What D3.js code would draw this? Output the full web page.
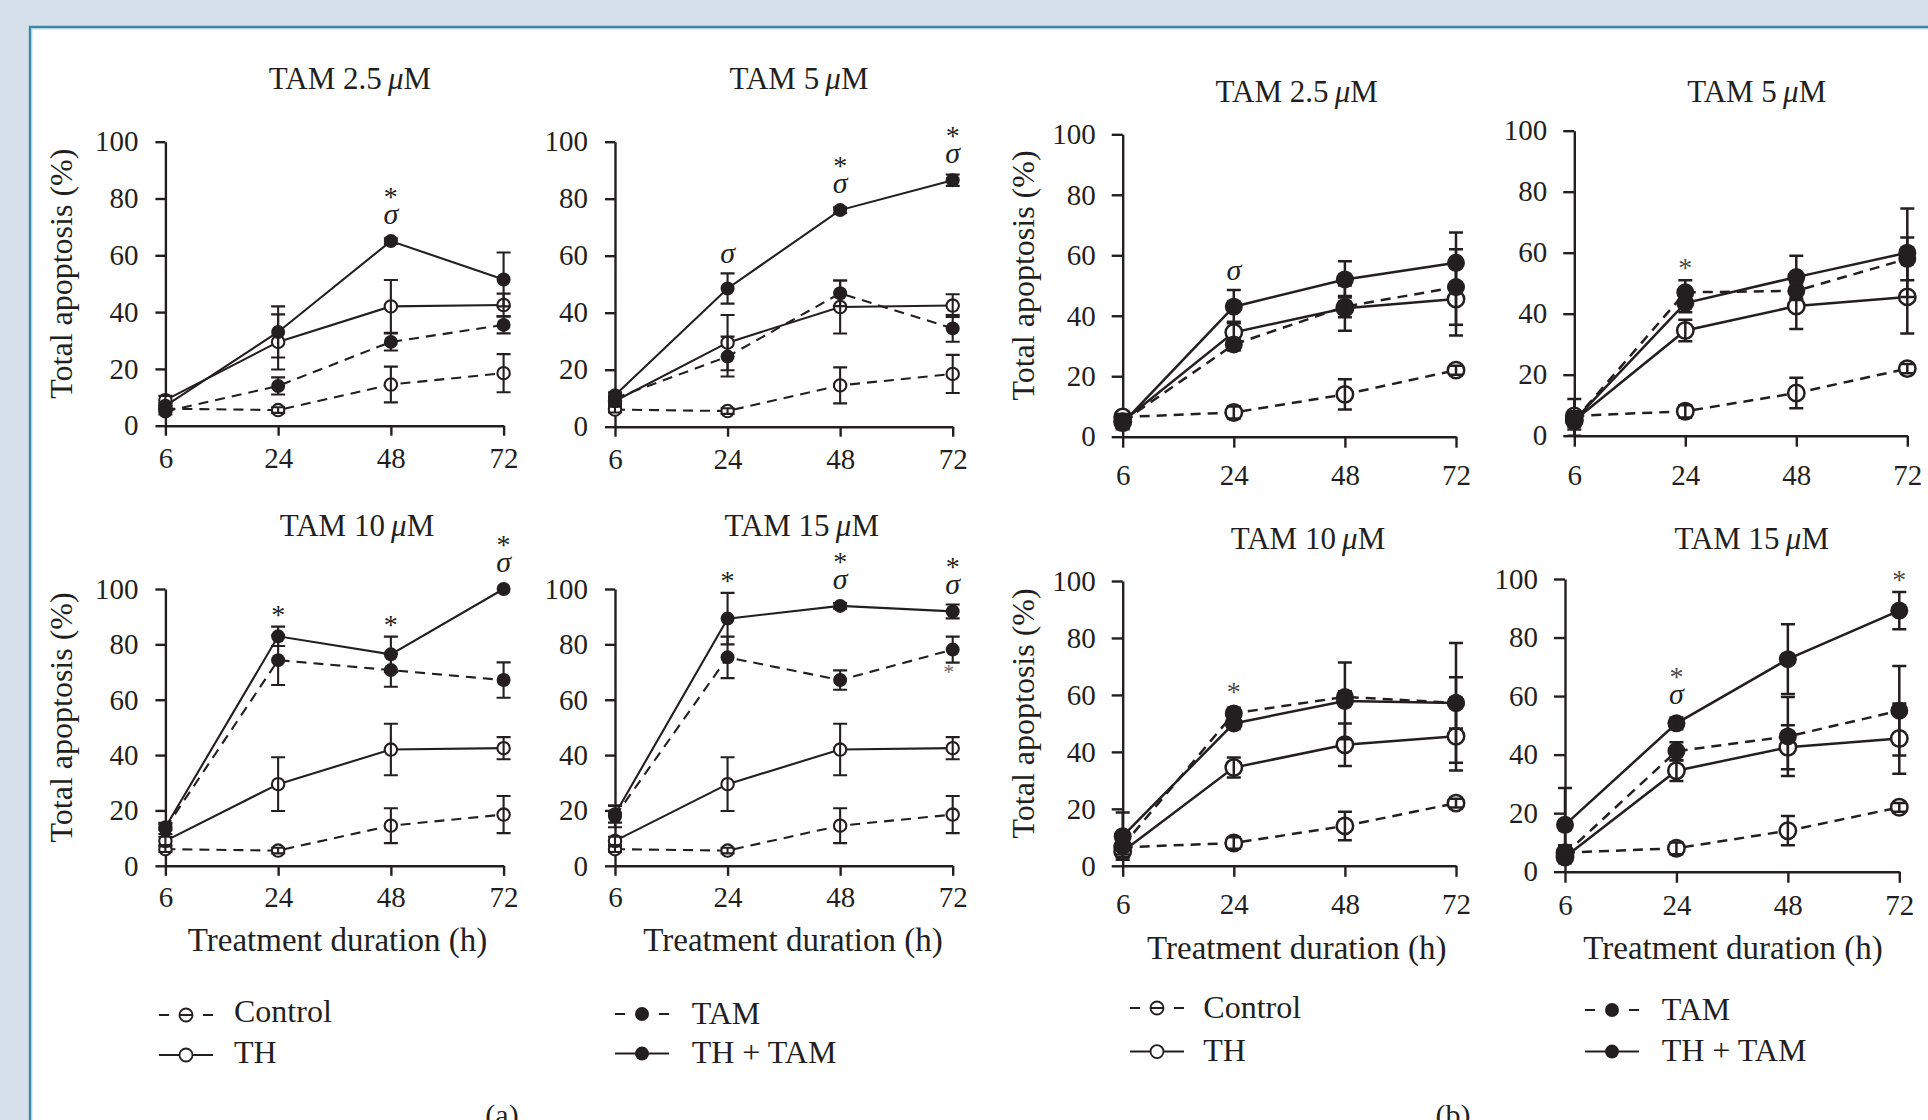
<!DOCTYPE html>
<html>
<head>
<meta charset="utf-8">
<script src="https://cdn.jsdelivr.net/npm/d3@7"></script>
<style>
  html, body { margin: 0; padding: 0; background: #d6e0ea; }
  svg { display: block; }
</style>
</head>
<body>
<svg id="fig" width="1928" height="1120"></svg>
<script>
// ---- shared axes ----
const hours = [6, 24, 48, 72];
const yTicks = [0, 20, 40, 60, 80, 100];
const doses = ["2.5", "5", "10", "15"];

// ---- (a) total apoptosis, mean and error ----
const controlA = [6, 5.5, 14.5, 18.5];
const controlAErr = [1, 1, 6.3, 6.7];
const thA = [9, 29.5, 42, 42.5];
const thAErr = [1.5, 9.7, 9.3, 4];
const tamA = [
  [5, 14, 29.5, 35.5],
  [10, 24.6, 46.8, 34.5],
  [13.5, 74.3, 70.7, 67.1],
  [17.9, 75.3, 67.1, 78.1]
];
const tamAErr = [
  [1, 3, 3, 3],
  [2, 7, 4.5, 4.7],
  [2, 9, 6, 6.4],
  [4, 7.5, 3.5, 4.7]
];
const thTamA = [
  [7, 33, 65, 51.5],
  [11, 48.5, 76, 86.5],
  [13.9, 82.9, 76.4, 100],
  [18.6, 89.3, 93.9, 91.9]
];
const thTamAErr = [
  [1, 9, 1, 9.5],
  [1, 5.3, 1, 2],
  [1, 3.5, 6.4, 0],
  [3, 9.3, 1, 2.5]
];
// significance marks (time points)
const starA = [[48], [48, 72], [24, 48, 72], [24, 48, 72]];
const sigmaA = [[48], [24, 48, 72], [72], [48, 72]];
const starBelowTamA = [[], [], [], [72]];

// ---- (b) total apoptosis, mean and error ----
const controlB = [6.5, 8, 14, 22];
const controlBErr = [1, 2, 5, 1.5];
const thB = [5, 34.5, 42.5, 45.5];
const thBErr = [2, 3.5, 7.5, 12];
const tamB = [
  [5, 30.5, 43, 49.5],
  [5, 47, 47.5, 58],
  [7, 53.5, 59.3, 57.2],
  [6, 41.2, 46.2, 55]
];
const tamBErr = [
  [2, 2, 3.5, 12.5],
  [3, 4, 3, 7],
  [3, 2, 2, 9],
  [3, 3, 13.5, 15.3]
];
const thTamB = [
  [4.5, 43, 52, 57.5],
  [5, 43.5, 52, 60],
  [10.4, 50, 57.9, 57.2],
  [16, 50.7, 72.6, 89.2]
];
const thTamBErr = [
  [2, 5.5, 6, 10],
  [7, 3, 7, 14.5],
  [8.3, 2, 13.5, 21],
  [12.6, 2, 11.9, 6.4]
];
const starB = [[], [24], [24], [24, 72]];
const sigmaB = [[24], [], [], [24]];
const starBelowTamB = [[], [], [], []];

// ---- drawing ----
const FONT = "'Liberation Serif', 'Times New Roman', Times, serif";
const INK = "#231f20";
const svg = d3.select("#fig");

// page frame
svg.append("rect").attr("x", 0).attr("y", 0).attr("width", 1928).attr("height", 1120).attr("fill", "#d6e0ea");
svg.append("rect").attr("x", 31).attr("y", 28).attr("width", 1928).attr("height", 1120).attr("fill", "#ffffff");
svg.append("path").attr("d", "M30,1120 V27 H1928").attr("fill", "none").attr("stroke", "#3f87a8").attr("stroke-width", 2.4);
svg.append("path").attr("d", "M31.8,1120 V28.8 H1928").attr("fill", "none").attr("stroke", "#a3c9da").attr("stroke-width", 1);

const styleA = { rFill: 7, rOpen: 6.2, lw: 2.1, tick: 10, cap: 7, dash: "10,7" };
const styleB = { rFill: 9, rOpen: 8.2, lw: 2.5, tick: 11, cap: 7, dash: "10,7" };

const layoutA = [
  { x0: 165.4, x1: 503.6, y0: 425.7, y1: 141.7, tx: 350, ty: 89, gap: 42.6, ylab: 60.7 },
  { x0: 615, x1: 952.7, y0: 426.7, y1: 141.7, tx: 799, ty: 89, gap: 42.6 },
  { x0: 165.4, x1: 503.6, y0: 865.8, y1: 589, tx: 357, ty: 535.6, gap: 41.5, ylab: 60.7, xlab: 337.5, xlabY: 951 },
  { x0: 615, x1: 952.7, y0: 865.8, y1: 589, tx: 801.7, ty: 535.6, gap: 41.5, xlab: 793, xlabY: 951 }
];
const layoutB = [
  { x0: 1122.7, x1: 1456, y0: 436.7, y1: 134.3, tx: 1296.7, ty: 101.7, gap: 48.5, ylab: 1023 },
  { x0: 1574.3, x1: 1907.3, y0: 435.7, y1: 130.7, tx: 1756.7, ty: 101.7, gap: 49 },
  { x0: 1122.7, x1: 1456, y0: 865.8, y1: 581, tx: 1308, ty: 549.4, gap: 48, ylab: 1023, xlab: 1296.7, xlabY: 958.7 },
  { x0: 1565, x1: 1899.3, y0: 871.7, y1: 579, tx: 1751.7, ty: 549.4, gap: 43, xlab: 1733, xlabY: 958.7 }
];

function drawPanel(L, dose, series, st, stars, sigmas, starsBelow, starColor) {
  const x = d3.scalePoint().domain(hours).range([L.x0, L.x1]);
  const y = d3.scaleLinear().domain([0, 100]).range([L.y0, L.y1]);
  const g = svg.append("g");

  // axes
  const xa = g.append("g").attr("transform", `translate(0,${L.y0})`)
    .call(d3.axisBottom(x).tickSize(st.tick).tickSizeOuter(0));
  const ya = g.append("g").attr("transform", `translate(${L.x0},0)`)
    .call(d3.axisLeft(y).tickValues(yTicks).tickSize(st.tick).tickSizeOuter(0));
  [xa, ya].forEach(a => {
    a.attr("font-family", null).attr("font-size", null);
    a.selectAll("path,line").attr("stroke", INK).attr("stroke-width", 2.4);
    a.selectAll("text").attr("fill", INK).style("font-family", FONT).style("font-size", "29px");
  });
  xa.selectAll("text").attr("y", L.gap).attr("dy", null);
  ya.selectAll("text").attr("x", -27);

  // title
  const t = g.append("text").attr("x", L.tx).attr("y", L.ty).attr("text-anchor", "middle")
    .attr("fill", INK).style("font-family", FONT).style("font-size", "31px");
  t.append("tspan").text(`TAM ${dose}\u2009`);
  t.append("tspan").style("font-style", "italic").text("\u03bc");
  t.append("tspan").text("M");

  if (L.ylab !== undefined) {
    g.append("text").attr("transform", `translate(${L.ylab},${(L.y0 + L.y1) / 2 - 10}) rotate(-90)`)
      .attr("text-anchor", "middle").attr("dy", "0.35em").attr("fill", INK)
      .style("font-family", FONT).style("font-size", "32px").text("Total apoptosis (%)");
  }
  if (L.xlab !== undefined) {
    g.append("text").attr("x", L.xlab).attr("y", L.xlabY).attr("text-anchor", "middle").attr("fill", INK)
      .style("font-family", FONT).style("font-size", "33px").text("Treatment duration (h)");
  }

  const line = d3.line().x((d, i) => x(hours[i])).y(d => y(d));
  // connecting lines
  series.forEach(s => {
    g.append("path").attr("d", line(s.vals)).attr("fill", "none").attr("stroke", INK)
      .attr("stroke-width", st.lw).attr("stroke-dasharray", s.dashed ? st.dash : null);
  });
  // open markers, then filled markers
  series.filter(s => !s.filled).forEach(s => {
    g.selectAll(null).data(s.vals).enter().append("circle")
      .attr("cx", (d, i) => x(hours[i])).attr("cy", d => y(d)).attr("r", st.rOpen)
      .attr("fill", "#fff").attr("stroke", INK).attr("stroke-width", st.lw);
  });
  series.filter(s => s.filled).forEach(s => {
    g.selectAll(null).data(s.vals).enter().append("circle")
      .attr("cx", (d, i) => x(hours[i])).attr("cy", d => y(d)).attr("r", st.rFill)
      .attr("fill", INK);
  });
  // error bars
  series.forEach(s => {
    s.vals.forEach((v, i) => {
      const e = s.errs[i];
      if (!e) return;
      const cx = x(hours[i]);
      const top = y(Math.min(100, v + e)), bot = y(Math.max(0, v - e));
      const p = `M${cx},${top}V${bot}M${cx - st.cap},${top}H${cx + st.cap}M${cx - st.cap},${bot}H${cx + st.cap}`;
      g.append("path").attr("d", p).attr("fill", "none").attr("stroke", INK).attr("stroke-width", st.lw);
    });
  });

  // significance marks above the highest point at each time
  const topAt = h => {
    const i = hours.indexOf(h);
    return d3.min(series, s => Math.min(y(s.vals[i] + (s.errs[i] || 0)), y(s.vals[i]) - st.rFill));
  };
  hours.forEach(h => {
    const hasS = sigmas.includes(h), hasStar = stars.includes(h);
    if (!hasS && !hasStar) return;
    const top = topAt(h);
    const sBase = top - 10;
    if (hasS) {
      g.append("text").attr("x", x(h)).attr("y", sBase).attr("text-anchor", "middle").attr("fill", INK)
        .style("font-family", FONT).style("font-style", "italic").style("font-size", "30px").text("\u03c3");
    }
    if (hasStar) {
      const c = hasS ? sBase - 31 : top - 16;
      g.append("text").attr("x", x(h)).attr("y", c + 13).attr("text-anchor", "middle").attr("fill", starColor)
        .style("font-family", FONT).style("font-size", "28px").text("*");
    }
  });
  // mark below the TAM point
  const tam = series.find(s => s.key === "tam");
  starsBelow.forEach(h => {
    const i = hours.indexOf(h);
    const bot = y(tam.vals[i] - tam.errs[i]);
    g.append("text").attr("x", x(h) - 4).attr("y", bot + 16).attr("text-anchor", "middle").attr("fill", "#6a6a6a")
      .style("font-family", FONT).style("font-size", "22px").text("*");
  });
}

function seriesFor(ctrl, ctrlE, th, thE, tam, tamE, tt, ttE) {
  return [
    { key: "control", vals: ctrl, errs: ctrlE, dashed: true, filled: false },
    { key: "th", vals: th, errs: thE, dashed: false, filled: false },
    { key: "tam", vals: tam, errs: tamE, dashed: true, filled: true },
    { key: "thtam", vals: tt, errs: ttE, dashed: false, filled: true }
  ];
}

doses.forEach((dose, k) => {
  drawPanel(layoutA[k], dose,
    seriesFor(controlA, controlAErr, thA, thAErr, tamA[k], tamAErr[k], thTamA[k], thTamAErr[k]),
    styleA, starA[k], sigmaA[k], starBelowTamA[k], INK);
  drawPanel(layoutB[k], dose,
    seriesFor(controlB, controlBErr, thB, thBErr, tamB[k], tamBErr[k], thTamB[k], thTamBErr[k]),
    styleB, starB[k], sigmaB[k], starBelowTamB[k], "#4a4a4a");
});

// ---- legends ----
const legendNames = [["Control", "TH"], ["TAM", "TH + TAM"]];
const legendPos = [
  { x: 159, tx: 234, rows: [1015, 1055], base: [1022, 1063], kind: 0 },
  { x: 615, tx: 691.7, rows: [1014, 1053.6], base: [1024, 1063], kind: 1 },
  { x: 1130, tx: 1203.3, rows: [1008, 1051.6], base: [1018, 1061], kind: 0 },
  { x: 1585, tx: 1661.7, rows: [1010, 1051.6], base: [1020, 1061], kind: 1 }
];
legendPos.forEach(P => {
  const names = legendNames[P.kind];
  names.forEach((name, r) => {
    const cy = P.rows[r];
    const dashed = r === 0;
    const filled = P.kind === 1;
    const lg = svg.append("g");
    lg.append("line").attr("x1", P.x).attr("x2", P.x + 54).attr("y1", cy).attr("y2", cy)
      .attr("stroke", INK).attr("stroke-width", 2)
      .attr("stroke-dasharray", dashed ? (filled ? "10,44" : "10,10.5,13,10.5,10") : null);
    if (dashed && filled) {
      lg.append("line").attr("x1", P.x + 44).attr("x2", P.x + 54).attr("y1", cy).attr("y2", cy)
        .attr("stroke", INK).attr("stroke-width", 2);
    }
    lg.append("circle").attr("cx", P.x + 27).attr("cy", cy).attr("r", filled ? 7 : 6.5)
      .attr("fill", filled ? INK : (dashed ? "none" : "#fff"))
      .attr("stroke", filled ? "none" : INK).attr("stroke-width", 1.8);
    lg.append("text").attr("x", P.tx).attr("y", P.base[r]).attr("fill", INK)
      .style("font-family", FONT).style("font-size", "32px").text(name);
  });
});

// part labels
[["(a)", 502], ["(b)", 1453]].forEach(([s, cx]) => {
  svg.append("text").attr("x", cx).attr("y", 1125).attr("text-anchor", "middle").attr("fill", INK)
    .style("font-family", FONT).style("font-size", "30px").text(s);
});
</script>
</body>
</html>
